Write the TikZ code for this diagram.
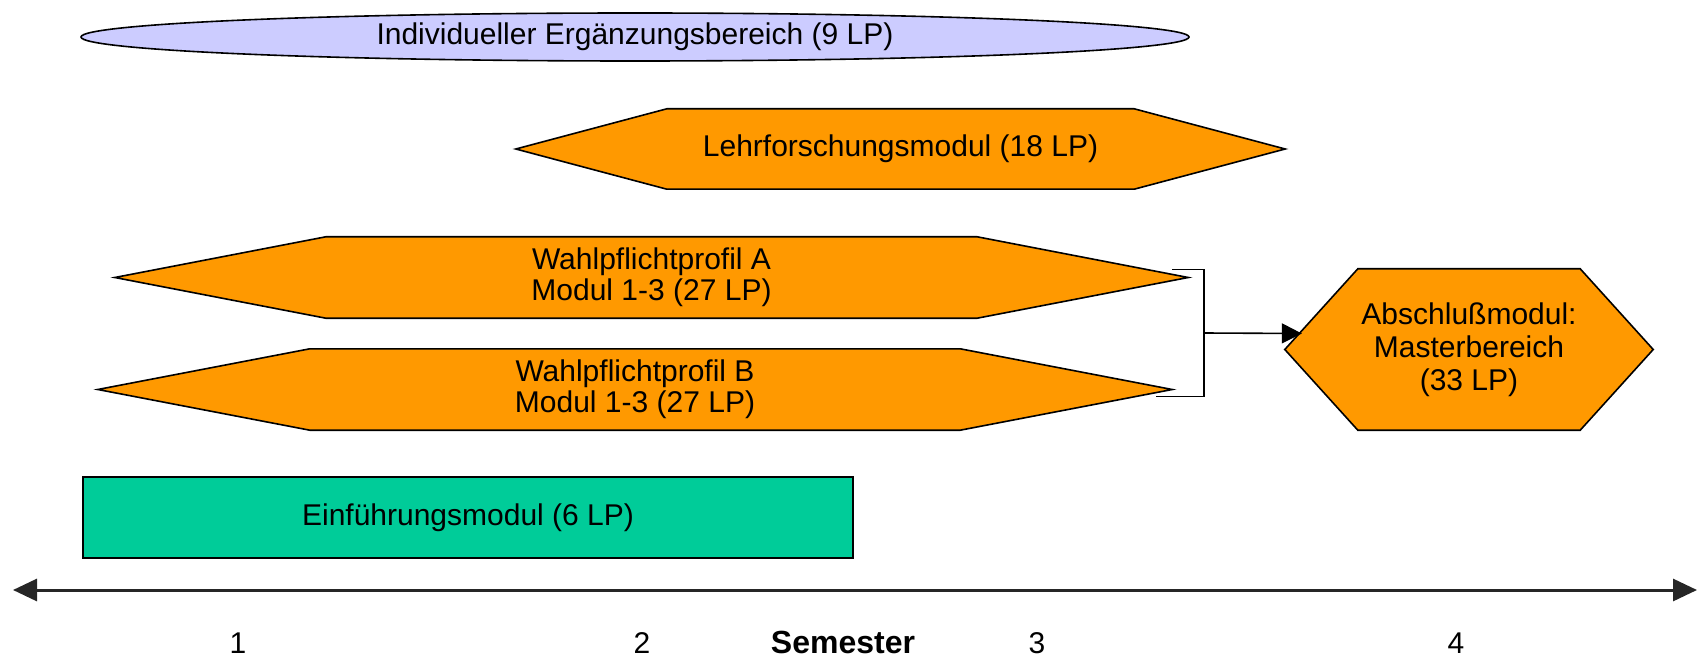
\documentclass[tikz,border=0pt]{standalone}
\usepackage{fontspec}
\setmainfont{Liberation Sans}
\usetikzlibrary{shapes.geometric, arrows.meta, positioning, backgrounds, calc}
\definecolor{modorange}{RGB}{255,153,0}
\definecolor{lavendel}{RGB}{204,204,255}
\definecolor{tuerkis}{RGB}{0,204,153}
\tikzstyle{modul} = [draw=black, line width=1.6pt, fill=modorange, line join=miter]
\tikzstyle{modtext} = [inner sep=0pt, align=center, font=\fontsize{30}{31}\selectfont]
\tikzstyle{arrow} = [line width=1.6pt, -{Triangle[length=20pt,width=20pt]}]
\tikzstyle{achse} = [line width=3pt, black!85, {Triangle[length=24pt,width=22pt]}-{Triangle[length=24pt,width=22pt]}]
\tikzstyle{semlabel} = [anchor=base, inner sep=0pt, font=\fontsize{30}{31}\selectfont]

% polygon behind a named text node: node, tip length
\newcommand{\modulform}[2]{%
  \begin{scope}[on background layer]
    \draw[modul] (#1.west) -- ([xshift=#2]#1.north west) -- ([xshift=-#2]#1.north east)
      -- (#1.east) -- ([xshift=-#2]#1.south east) -- ([xshift=#2]#1.south west) -- cycle;
  \end{scope}}

\begin{document}
\begin{tikzpicture}[x=1pt, y=-1pt]
    \useasboundingbox (0,0) rectangle (1699,660);

    \node (ergaenz) [modtext, ellipse, draw=black, line width=1.6pt, fill=lavendel,
        minimum width=1108pt, minimum height=48pt] at (635,37)
        {Individueller Ergänzungsbereich (9 LP)};

    \node (lehr) [modtext, minimum width=769pt, minimum height=80pt] at (900.5,149)
        {Lehrforschungsmodul (18 LP)};
    \modulform{lehr}{151pt}

    \node (wpa) [modtext, minimum width=1073pt, minimum height=81pt] at (651.5,277.5)
        {Wahlpflichtprofil A\\Modul 1-3 (27 LP)};
    \modulform{wpa}{211pt}

    \node (wpb) [modtext, minimum width=1074pt, minimum height=81pt] at (635,389.5)
        {Wahlpflichtprofil B\\Modul 1-3 (27 LP)};
    \modulform{wpb}{212pt}

    \node (absch) [modtext, font=\fontsize{30}{33}\selectfont, minimum width=368pt,
        minimum height=161pt] at (1469,349.5)
        {Abschlußmodul:\\Masterbereich\\(33 LP)};
    \modulform{absch}{73pt}

    \node (einf) [modtext, draw=black, line width=1.6pt, fill=tuerkis,
        minimum width=770pt, minimum height=81pt] at (468,517.5)
        {Einführungsmodul (6 LP)};

    % Zusammenfuehrung A/B -> Abschluss
    \coordinate (knick) at (1204,333);
    \coordinate (ziel) at ($(absch.west)+(17,-16)$);
    \draw[line width=1.6pt] ([xshift=-16pt,yshift=8pt]wpa.east) -| (knick)
        |- ([xshift=-16pt,yshift=-7pt]wpb.east);
    \draw[arrow] (knick) -- (ziel);

    % Zeitachse
    \coordinate (links) at (13,590);
    \coordinate (rechts) at (1697,590);
    \draw[achse] (links) -- (rechts);

    \node (sem1) [semlabel] at (238,653) {1};
    \node (sem2) [semlabel] at (642,653) {2};
    \node (semtext) [semlabel, font=\fontsize{32}{33}\selectfont\bfseries] at (843,653) {Semester};
    \node (sem3) [semlabel] at (1037,653) {3};
    \node (sem4) [semlabel] at (1456,653) {4};
\end{tikzpicture}
\end{document}
